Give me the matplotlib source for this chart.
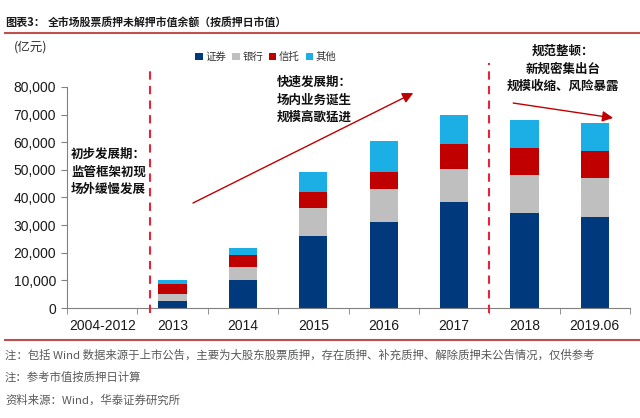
import matplotlib
matplotlib.use("Agg")
import matplotlib.pyplot as plt
from matplotlib.patches import Patch
from matplotlib.lines import Line2D
import numpy as np

plt.rcParams['font.family'] = ['Noto Sans CJK SC', 'DejaVu Sans']

categories = ["2004-2012", "2013", "2014", "2015", "2016", "2017", "2018", "2019.06"]
series_names = ["证券", "银行", "信托", "其他"]
zhengquan = [0, 2600, 10200, 26100, 31000, 38300, 34300, 32900]
yinhang   = [0, 2600, 4800, 10100, 12000, 11900, 13800, 14000]
xintuo    = [0, 3500, 4200, 5700, 6300, 9100, 9900, 9900]
qita      = [0, 1500, 2500, 7400, 11100, 10500, 10200, 10000]
yticks = [0, 10000, 20000, 30000, 40000, 50000, 60000, 70000, 80000]
colors = ["#003A7D", "#BFBFBF", "#C00000", "#1CAFE6"]

W, H = 640, 418
fig = plt.figure(figsize=(W / 100, H / 100), dpi=100)
ax = fig.add_axes([67 / W, (H - 308) / H, 563 / W, 221 / H])

x = np.arange(len(categories))
bottom = np.zeros(len(categories))
for vals, c in zip([zhengquan, yinhang, xintuo, qita], colors):
    ax.bar(x, vals, 0.4, bottom=bottom, color=c, zorder=2)
    bottom += np.array(vals)

ax.set_xlim(-0.5, len(categories) - 0.5)
ax.set_ylim(0, 80000)
ax.set_yticks(yticks)
ax.set_yticklabels([f"{v:,}" for v in yticks], fontsize=10, family="Liberation Sans", color="#1a1a1a")
ax.set_xticks(x)
ax.set_xticklabels(categories, fontsize=10, family="Liberation Sans", color="#1a1a1a")
ax.tick_params(axis="x", length=0, pad=8)
ax.set_xticks(np.arange(-0.5, len(categories) + 0.5, 1), minor=True)
ax.tick_params(axis="x", which="minor", length=4, direction="out", color="#808080")
ax.tick_params(axis="y", length=4, direction="out", color="#808080", pad=4)
for s in ["top", "right"]:
    ax.spines[s].set_visible(False)
ax.spines["left"].set_color("#808080")
ax.spines["bottom"].set_color("#808080")

# dashed period separators
ax.plot([0.68, 0.68], [-1800, 87000], ls=(0, (4, 3)), color="#E8233C", lw=1.5, clip_on=False, zorder=3)
ax.plot([5.49, 5.49], [-1800, 88800], ls=(0, (4, 3)), color="#E8233C", lw=1.5, clip_on=False, zorder=3)

# arrows
ax.annotate("", xy=(4.42, 77800), xytext=(1.29, 38000),
            arrowprops=dict(arrowstyle="-|>", color="#C00000", lw=1.0, mutation_scale=16, shrinkA=0, shrinkB=0),
            annotation_clip=False)
ax.annotate("", xy=(7.26, 68800), xytext=(5.84, 74200),
            arrowprops=dict(arrowstyle="-|>", color="#C00000", lw=1.0, mutation_scale=16, shrinkA=0, shrinkB=0),
            annotation_clip=False)

# period text
fig.text(71 / W, 1 - 148 / H, "初步发展期：\n监管框架初现\n场外缓慢发展", fontsize=9, fontweight="bold",
         va="top", ha="left", linespacing=1.45, color="#111111")
fig.text(277 / W, 1 - 76 / H, "快速发展期：\n场内业务诞生\n规模高歌猛进", fontsize=9, fontweight="bold",
         va="top", ha="left", linespacing=1.45, color="#111111")
fig.text(563 / W, 1 - 45 / H, "规范整顿：\n新规密集出台\n规模收缩、风险暴露", fontsize=9, fontweight="bold",
         va="top", ha="center", linespacing=1.45, color="#111111", multialignment="center")

# title
fig.text(5 / W, 1 - 22 / H, "图表3：", fontsize=8, fontweight="bold", va="center", ha="left", color="#1a1a1a")
fig.text(48 / W, 1 - 22 / H, "全市场股票质押未解押市值余额（按质押日市值）", fontsize=7.8,
         fontweight="bold", va="center", ha="left", color="#1a1a1a")
fig.add_artist(Line2D([5 / W, 1], [1 - 33 / H, 1 - 33 / H], color="#C0504D", lw=1.5))
fig.add_artist(Line2D([5 / W, 1], [1 - 340 / H, 1 - 340 / H], color="#C0504D", lw=1.5))

fig.text(14 / W, 1 - 47 / H, "(亿元)", fontsize=9, va="center", ha="left", color="#333333")

handles = [Patch(facecolor=c, edgecolor="none") for c in colors]
fig.legend(handles, series_names, loc="center", bbox_to_anchor=(266 / W, 1 - 57 / H), ncol=4,
           frameon=False, fontsize=7.5, handlelength=0.7, handleheight=0.7, handletextpad=0.25,
           columnspacing=0.6, labelcolor="#333333")

notes = ["注：包括 Wind 数据来源于上市公告，主要为大股东股票质押，存在质押、补充质押、解除质押未公告情况，仅供参考",
         "注：参考市值按质押日计算",
         "资料来源：Wind，华泰证券研究所"]
for i, n in enumerate(notes):
    fig.text(5 / W, 1 - (355 + 22.5 * i) / H, n, fontsize=8.2, va="center", ha="left", color="#595959")

fig.savefig("out.png", dpi=100)
